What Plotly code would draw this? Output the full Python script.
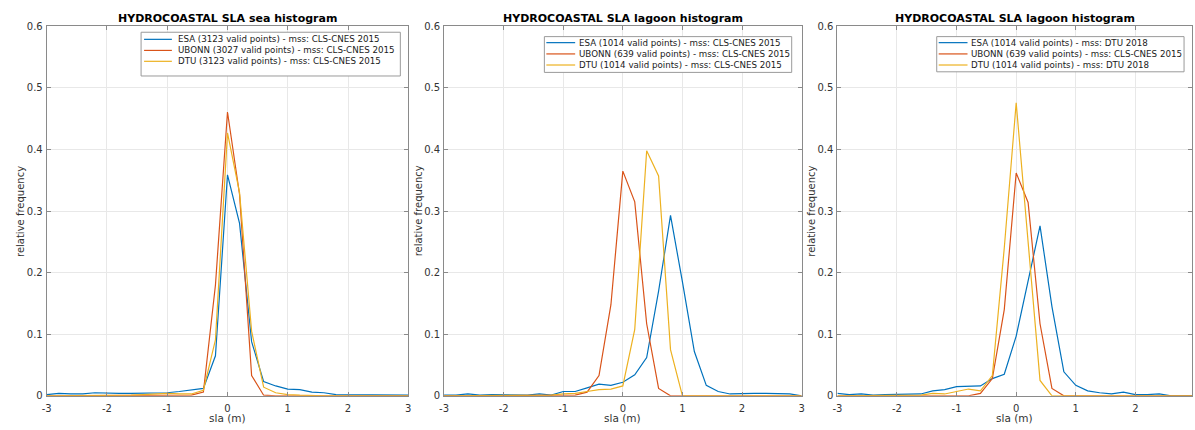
import plotly.graph_objects as go

# ---------------- data ----------------
sla_bins = [-3.0, -2.8, -2.6, -2.4, -2.2, -2.0, -1.8, -1.6, -1.4, -1.2, -1.0,
            -0.8, -0.6, -0.4, -0.2, 0.0, 0.2, 0.4, 0.6, 0.8, 1.0,
            1.2, 1.4, 1.6, 1.8, 2.0, 2.2, 2.4, 2.6, 2.8, 3.0]

# panel 1 : sea
sea_esa = [0.002, 0.004, 0.003, 0.003, 0.005, 0.004, 0.004, 0.004, 0.004, 0.005, 0.005,
           0.007, 0.009, 0.012, 0.065, 0.359, 0.280, 0.088, 0.023, 0.016, 0.011,
           0.010, 0.006, 0.005, 0.002, 0.002, 0.001, 0.001, 0.002, 0.001, 0.001]
sea_ubonn = [0, 0, 0, 0, 0, 0, 0, 0, 0, 0, 0,
             0.001, 0.001, 0.006, 0.180, 0.461, 0.327, 0.033, 0.001, 0, 0,
             0, 0, 0, 0, 0, 0, 0, 0, 0, 0]
sea_dtu = [0, 0, 0, 0, 0, 0, 0, 0.001, 0.002, 0.003, 0.004,
           0.003, 0.003, 0.009, 0.091, 0.427, 0.330, 0.105, 0.014, 0.005, 0.002,
           0.001, 0, 0, 0, 0, 0, 0, 0, 0, 0]

# panel 2 : lagoon, mss CLS-CNES 2015
lag_esa = [0.001, 0.001, 0.003, 0.001, 0.002, 0.002, 0.002, 0.001, 0.003, 0.001, 0.007,
           0.007, 0.013, 0.019, 0.017, 0.022, 0.034, 0.062, 0.170, 0.293, 0.185,
           0.072, 0.017, 0.007, 0.003, 0.004, 0.004, 0.004, 0.003, 0.003, 0.0]
lag_ubonn = [0, 0, 0, 0, 0, 0, 0, 0, 0, 0, 0,
             0.001, 0.006, 0.033, 0.148, 0.365, 0.315, 0.117, 0.012, 0, 0,
             0, 0, 0, 0, 0, 0, 0, 0, 0, 0]
lag_dtu = [0, 0, 0, 0, 0, 0, 0, 0, 0, 0.001, 0.003,
           0.004, 0.007, 0.010, 0.011, 0.016, 0.108, 0.398, 0.357, 0.075, 0,
           0, 0, 0, 0, 0, 0, 0, 0, 0, 0]

# panel 3 : lagoon, mss DTU 2018
lag18_esa = [0.004, 0.002, 0.003, 0.001, 0.002, 0.002, 0.002, 0.003, 0.008, 0.010, 0.015,
             0.016, 0.016, 0.028, 0.035, 0.097, 0.186, 0.276, 0.145, 0.039, 0.017,
             0.008, 0.005, 0.003, 0.006, 0.002, 0.002, 0.003, 0, 0, 0]
lag18_ubonn = [0, 0, 0, 0, 0, 0, 0, 0, 0, 0, 0,
               0, 0.004, 0.028, 0.140, 0.362, 0.314, 0.117, 0.012, 0, 0,
               0, 0, 0, 0, 0, 0, 0, 0, 0, 0]
lag18_dtu = [0, 0, 0, 0, 0, 0, 0, 0.001, 0.004, 0.003, 0.007,
             0.011, 0.008, 0.033, 0.240, 0.476, 0.250, 0.025, 0, 0, 0,
             0, 0, 0, 0, 0, 0, 0, 0, 0, 0]

titles = ["HYDROCOASTAL SLA sea histogram",
          "HYDROCOASTAL SLA lagoon histogram",
          "HYDROCOASTAL SLA lagoon histogram"]
legend_labels = [
    ["ESA (3123 valid points) - mss: CLS-CNES 2015",
     "UBONN (3027 valid points) - mss: CLS-CNES 2015",
     "DTU (3123 valid points) - mss: CLS-CNES 2015"],
    ["ESA (1014 valid points) - mss: CLS-CNES 2015",
     "UBONN (639 valid points) - mss: CLS-CNES 2015",
     "DTU (1014 valid points) - mss: CLS-CNES 2015"],
    ["ESA (1014 valid points) - mss: DTU 2018",
     "UBONN (639 valid points) - mss: CLS-CNES 2015",
     "DTU (1014 valid points) - mss: DTU 2018"],
]
x_ticks = [-3, -2, -1, 0, 1, 2, 3]
y_ticks = [0, 0.1, 0.2, 0.3, 0.4, 0.5, 0.6]
y_ticktext = ["0", "0.1", "0.2", "0.3", "0.4", "0.5", "0.6"]

panels = [[sea_esa, sea_ubonn, sea_dtu],
          [lag_esa, lag_ubonn, lag_dtu],
          [lag18_esa, lag18_ubonn, lag18_dtu]]

# ---------------- style / layout ----------------
W, H = 1195, 430
colors = ["#0072BD", "#D95319", "#EDB120"]
FONT = "DejaVu Sans"
AXC = "#8a8a8a"
TXT = "#333333"

def px(x):
    return x / W

def py(y):
    return 1 - y / H

x_px = [(42, 406), (442, 802), (838, 1195)]
x_ranges = [[-3, 3], [-3, 3], [-3, -3 + 357 / 60.0]]
y_top, y_bot = 21, 401
# legend boxes: (left, top, right, bottom, line_x0, line_x1, text_x, row y's)
leg_boxes = [
    (137, 27, 398, 72, 140, 168, 172, [34.3, 45.7, 56.9]),
    (543, 31.5, 792, 68.3, 545, 574, 576, [37.7, 49.3, 60.7]),
    (938, 31.5, 1187, 67.7, 940, 969, 971, [37.7, 49.3, 60.7]),
]
ylab_x = [15, 416, 812]

fig = go.Figure()
layout = dict(width=W, height=H, margin=dict(l=0, r=0, t=0, b=0),
              paper_bgcolor="white", plot_bgcolor="white", showlegend=False,
              font=dict(family=FONT, size=9, color=TXT))
annotations = []
shapes = []

for i in range(3):
    xa = "x" if i == 0 else f"x{i+1}"
    ya = "y" if i == 0 else f"y{i+1}"
    for j in range(3):
        fig.add_trace(go.Scatter(x=sla_bins, y=panels[i][j], mode="lines",
                                 line=dict(color=colors[j], width=1.2),
                                 name=legend_labels[i][j], xaxis=xa, yaxis=ya,
                                 cliponaxis=True))
    xk = "xaxis" if i == 0 else f"xaxis{i+1}"
    yk = "yaxis" if i == 0 else f"yaxis{i+1}"
    layout[xk] = dict(domain=[px(x_px[i][0]), min(1.0, px(x_px[i][1]))],
                      range=x_ranges[i], anchor=ya,
                      tickvals=x_ticks, ticktext=[str(t) for t in x_ticks],
                      showgrid=True, gridcolor="#e8e8e8", gridwidth=1,
                      zeroline=False, showline=True, linecolor=AXC, linewidth=1,
                      mirror="ticks", ticks="inside", ticklen=4, tickcolor=AXC,
                      ticklabelstandoff=3,
                      tickfont=dict(family=FONT, size=10, color=TXT))
    layout[yk] = dict(domain=[py(y_bot), py(y_top)], range=[0, 0.6], anchor=xa,
                      tickvals=y_ticks, ticktext=y_ticktext,
                      showgrid=True, gridcolor="#e8e8e8", gridwidth=1,
                      zeroline=False, showline=True, linecolor=AXC, linewidth=1,
                      mirror="ticks", ticks="inside", ticklen=4, tickcolor=AXC,
                      ticklabelstandoff=1,
                      tickfont=dict(family=FONT, size=10, color=TXT))
    cx = (x_px[i][0] + min(W, x_px[i][1] if i < 2 else 1198)) / 2
    # title
    annotations.append(dict(text="<b>" + titles[i] + "</b>", x=px(cx), y=py(13),
                            xref="paper", yref="paper", showarrow=False,
                            xanchor="center", yanchor="middle",
                            font=dict(family=FONT, size=11, color="#000000")))
    # x label
    annotations.append(dict(text="sla (m)", x=px(cx), y=py(424),
                            xref="paper", yref="paper", showarrow=False,
                            xanchor="center", yanchor="middle",
                            font=dict(family=FONT, size=10.5, color=TXT)))
    # y label
    annotations.append(dict(text="relative frequency", x=px(ylab_x[i]),
                            y=py((y_top + y_bot) / 2), textangle=-90,
                            xref="paper", yref="paper", showarrow=False,
                            xanchor="center", yanchor="middle",
                            font=dict(family=FONT, size=10, color=TXT)))
    # legend box
    L, T, R, B, lx0, lx1, tx, rows = leg_boxes[i]
    shapes.append(dict(type="rect", xref="paper", yref="paper",
                       x0=px(L), x1=px(R), y0=py(B), y1=py(T),
                       line=dict(color="#9a9a9a", width=1), fillcolor="white",
                       layer="above"))
    for j in range(3):
        shapes.append(dict(type="line", xref="paper", yref="paper",
                           x0=px(lx0), x1=px(lx1), y0=py(rows[j]), y1=py(rows[j]),
                           line=dict(color=colors[j], width=1.2), layer="above"))
        annotations.append(dict(text=legend_labels[i][j], x=px(tx), y=py(rows[j]),
                                xref="paper", yref="paper", showarrow=False,
                                xanchor="left", yanchor="middle",
                                font=dict(family=FONT, size=8.7, color="#1a1a1a")))

layout["annotations"] = annotations
layout["shapes"] = shapes
fig.update_layout(**layout)
fig.write_html("out.html",
               post_script="document.body.style.margin='0';"
                           "document.body.style.padding='0';"
                           "document.body.style.overflow='hidden';")
